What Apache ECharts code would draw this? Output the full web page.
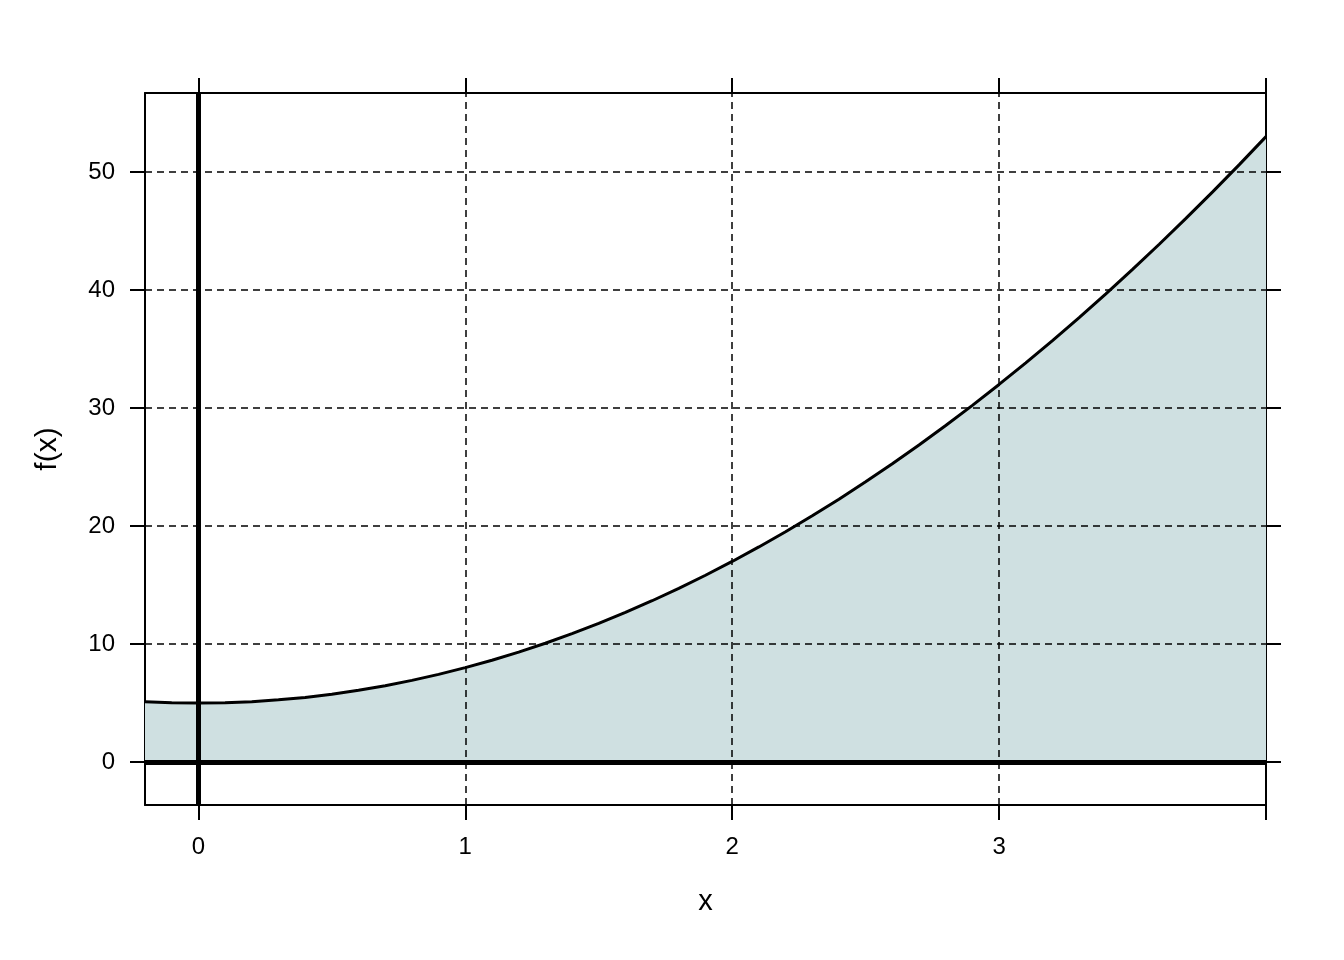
<!DOCTYPE html>
<html>
<head>
<meta charset="utf-8">
<script src="https://cdn.jsdelivr.net/npm/echarts@6/dist/echarts.min.js"></script>
<style>
html,body{margin:0;padding:0;background:#fff;}
#chart{width:1344px;height:960px;}
</style>
</head>
<body>
<div id="chart"></div>
<script>
// Data
const xValues = [-0.2,-0.1,0,0.1,0.2,0.3,0.4,0.5,0.6,0.7,0.8,0.9,1.0,1.1,1.2,1.3,1.4,1.5,1.6,1.7,1.8,1.9,2.0,2.1,2.2,2.3,2.4,2.5,2.6,2.7,2.8,2.9,3.0,3.1,3.2,3.3,3.4,3.5,3.6,3.7,3.8,3.9,4.0];
const fValues = [5.12,5.03,5,5.03,5.12,5.27,5.48,5.75,6.08,6.47,6.92,7.43,8,8.63,9.32,10.07,10.88,11.75,12.68,13.67,14.72,15.83,17,18.23,19.52,20.87,22.28,23.75,25.28,26.87,28.52,30.23,32,33.83,35.72,37.67,39.68,41.75,43.88,46.07,48.32,50.63,53];
const xTicks = [0,1,2,3,4];
const xTickLabels = [0,1,2,3];
const yTicks = [0,10,20,30,40,50];
const xGrid = [0,1,2,3];
const yGrid = [0,10,20,30,40,50];
const xRange = [-0.2, 4];
const yRange = [-3.64, 56.7];
const xName = 'x';
const yName = 'f(x)';

const pts = xValues.map((x,i)=>[x,fValues[i]]);
const FONT = 'Liberation Sans, Arial, sans-serif';

const axisCommon = {
  type:'value',
  axisLine:{show:true,onZero:false,lineStyle:{color:'#000',width:2}},
  axisTick:{show:true,inside:false,length:15,lineStyle:{color:'#000',width:2}},
  splitLine:{show:false}
};

const chart = echarts.init(document.getElementById('chart'),null,{renderer:'canvas'});
chart.setOption({
  animation:false,
  backgroundColor:'#fff',
  grid:{left:145,right:78,top:93,bottom:155,containLabel:false},
  xAxis:[
    Object.assign({},axisCommon,{position:'bottom',min:xRange[0],max:xRange[1],
      name:xName,nameLocation:'middle',nameGap:82,
      nameTextStyle:{fontFamily:FONT,fontSize:29,color:'#000'},
      axisTick:Object.assign({},axisCommon.axisTick,{customValues:xTicks}),
      axisLabel:{show:true,customValues:xTickLabels,margin:30,fontFamily:FONT,fontSize:24,color:'#000'}}),
    Object.assign({},axisCommon,{position:'top',min:xRange[0],max:xRange[1],
      axisTick:Object.assign({},axisCommon.axisTick,{customValues:xTicks}),
      axisLabel:{show:false}})
  ],
  yAxis:[
    Object.assign({},axisCommon,{position:'left',min:yRange[0],max:yRange[1],
      name:yName,nameLocation:'middle',nameGap:82,nameRotate:90,
      nameTextStyle:{fontFamily:FONT,fontSize:30,color:'#000'},
      axisTick:Object.assign({},axisCommon.axisTick,{customValues:yTicks}),
      axisLabel:{show:true,customValues:yTicks,margin:30,fontFamily:FONT,fontSize:24,color:'#000'}}),
    Object.assign({},axisCommon,{position:'right',min:yRange[0],max:yRange[1],
      axisTick:Object.assign({},axisCommon.axisTick,{customValues:yTicks}),
      axisLabel:{show:false}})
  ],
  series:[
    {
      type:'line',data:pts,showSymbol:false,z:1,silent:true,
      lineStyle:{width:0,opacity:0},
      areaStyle:{color:'#cfe0e1',opacity:1,origin:0},
      markLine:{
        silent:true,symbol:['none','none'],z:3,
        label:{show:false},
        lineStyle:{color:'#000',width:1.5,type:[7,5]},
        data:xGrid.map(v=>({xAxis:v})).concat(yGrid.map(v=>({yAxis:v})))
      }
    },
    {
      type:'line',data:pts,showSymbol:false,z:4,silent:true,
      lineStyle:{color:'#000',width:3},
      markLine:{
        silent:true,symbol:['none','none'],z:6,
        label:{show:false},
        lineStyle:{color:'#000',width:5,type:'solid'},
        data:[{xAxis:0},{yAxis:0}]
      }
    }
  ]
});
</script>
</body>
</html>
